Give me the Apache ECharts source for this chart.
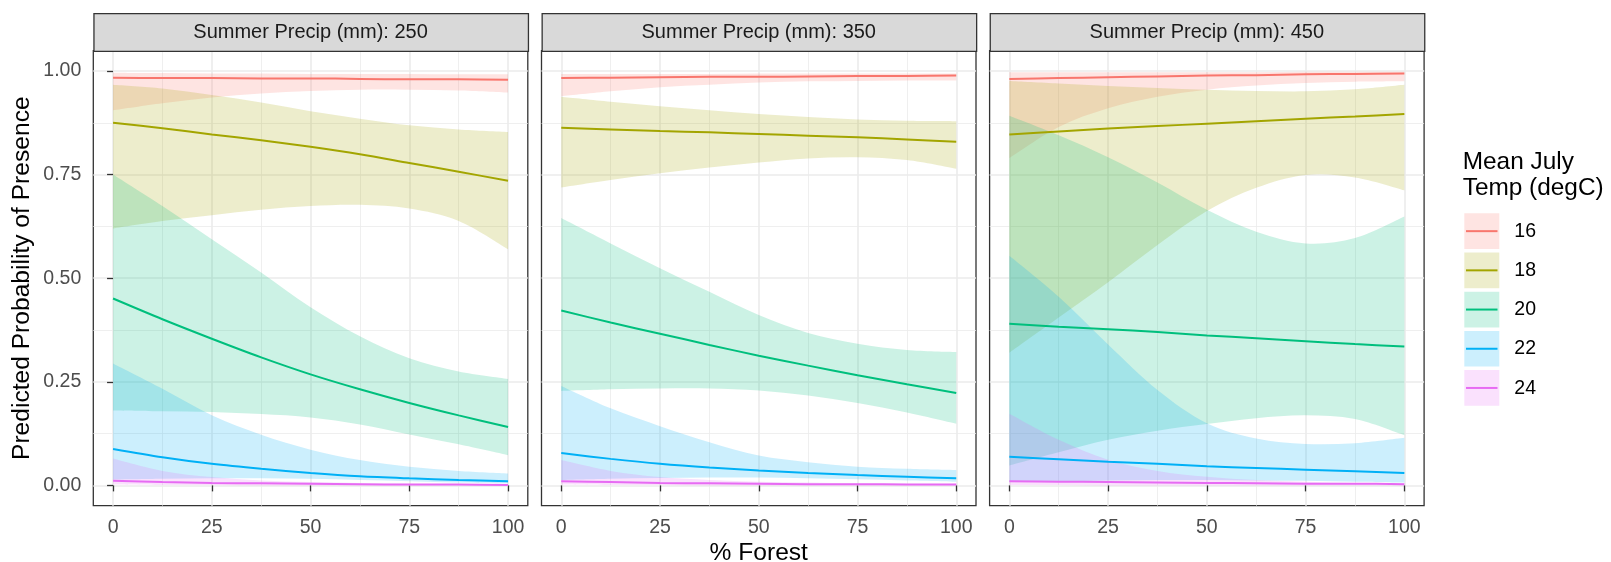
<!DOCTYPE html>
<html>
<head>
<meta charset="utf-8">
<script src="https://cdn.jsdelivr.net/npm/echarts@6/dist/echarts.min.js"></script>
<style>
html,body{margin:0;padding:0;background:#fff;}
#chart{width:1611px;height:562px;}
</style>
</head>
<body>
<div id="chart"></div>
<script>
// ---------- DATA ----------
const xs = [0, 12.5, 25, 37.5, 50, 62.5, 75, 87.5, 100];
const temps = ['16', '18', '20', '22', '24'];
const precips = ['250', '350', '450'];
const xTicks = [0, 25, 50, 75, 100];
const yTicks = [0, 0.25, 0.5, 0.75, 1];
const yTickLabels = ['0.00', '0.25', '0.50', '0.75', '1.00'];

// Summer Precip 250 (rows: 16,18,20,22,24)
const fit250 = [
  [0.984, 0.983, 0.983, 0.982, 0.982, 0.981, 0.980, 0.980, 0.979],
  [0.875, 0.862, 0.847, 0.833, 0.817, 0.799, 0.778, 0.757, 0.735],
  [0.451, 0.401, 0.354, 0.309, 0.268, 0.232, 0.199, 0.169, 0.141],
  [0.088, 0.068, 0.052, 0.040, 0.030, 0.022, 0.017, 0.013, 0.010],
  [0.011, 0.008, 0.006, 0.005, 0.004, 0.003, 0.002, 0.002, 0.001]
];
const lo250 = [
  [0.905, 0.922, 0.936, 0.946, 0.952, 0.955, 0.955, 0.953, 0.948],
  [0.620, 0.638, 0.652, 0.665, 0.674, 0.677, 0.668, 0.638, 0.570],
  [0.181, 0.179, 0.177, 0.172, 0.164, 0.147, 0.123, 0.099, 0.073],
  [0.014, 0.016, 0.017, 0.017, 0.016, 0.013, 0.010, 0.007, 0.005],
  [0.002, 0.001, 0.001, 0.000, 0.000, 0.000, 0.000, 0.000, 0.000]
];
const hi250 = [
  [0.996, 0.995, 0.994, 0.994, 0.993, 0.993, 0.993, 0.992, 0.992],
  [0.967, 0.958, 0.942, 0.924, 0.903, 0.885, 0.869, 0.859, 0.853],
  [0.750, 0.674, 0.594, 0.514, 0.430, 0.360, 0.307, 0.275, 0.257],
  [0.294, 0.233, 0.169, 0.122, 0.086, 0.061, 0.045, 0.035, 0.029],
  [0.065, 0.035, 0.020, 0.012, 0.008, 0.006, 0.004, 0.003, 0.003]
];

// Summer Precip 350
const fit350 = [
  [0.983, 0.984, 0.985, 0.986, 0.986, 0.987, 0.988, 0.988, 0.989],
  [0.863, 0.859, 0.855, 0.852, 0.848, 0.844, 0.840, 0.835, 0.829],
  [0.422, 0.393, 0.366, 0.339, 0.313, 0.289, 0.266, 0.244, 0.223],
  [0.078, 0.064, 0.052, 0.043, 0.036, 0.030, 0.025, 0.021, 0.017],
  [0.010, 0.008, 0.006, 0.005, 0.004, 0.003, 0.003, 0.002, 0.002]
];
const lo350 = [
  [0.939, 0.951, 0.961, 0.967, 0.972, 0.975, 0.976, 0.977, 0.977],
  [0.719, 0.737, 0.753, 0.767, 0.779, 0.789, 0.792, 0.785, 0.764],
  [0.228, 0.232, 0.234, 0.234, 0.229, 0.217, 0.199, 0.176, 0.149],
  [0.013, 0.016, 0.018, 0.019, 0.019, 0.017, 0.015, 0.012, 0.009],
  [0.002, 0.001, 0.001, 0.000, 0.000, 0.000, 0.000, 0.000, 0.000]
];
const hi350 = [
  [0.993, 0.993, 0.993, 0.993, 0.994, 0.994, 0.994, 0.994, 0.994],
  [0.938, 0.926, 0.915, 0.905, 0.896, 0.889, 0.883, 0.880, 0.879],
  [0.645, 0.584, 0.524, 0.467, 0.411, 0.368, 0.342, 0.327, 0.322],
  [0.240, 0.186, 0.143, 0.104, 0.072, 0.056, 0.045, 0.040, 0.037],
  [0.061, 0.035, 0.020, 0.013, 0.009, 0.007, 0.005, 0.004, 0.004]
];

// Summer Precip 450
const fit450 = [
  [0.981, 0.983, 0.985, 0.987, 0.989, 0.990, 0.992, 0.993, 0.994],
  [0.847, 0.854, 0.861, 0.867, 0.873, 0.879, 0.885, 0.890, 0.896],
  [0.390, 0.383, 0.377, 0.370, 0.362, 0.355, 0.348, 0.341, 0.335],
  [0.069, 0.063, 0.057, 0.052, 0.046, 0.042, 0.038, 0.034, 0.030],
  [0.010, 0.009, 0.008, 0.007, 0.006, 0.005, 0.004, 0.004, 0.003]
];
const lo450 = [
  [0.790, 0.865, 0.910, 0.938, 0.955, 0.965, 0.971, 0.974, 0.975],
  [0.320, 0.405, 0.490, 0.580, 0.662, 0.718, 0.749, 0.743, 0.712],
  [0.048, 0.080, 0.110, 0.132, 0.148, 0.162, 0.169, 0.160, 0.121],
  [0.008, 0.010, 0.012, 0.013, 0.013, 0.012, 0.011, 0.009, 0.007],
  [0.001, 0.001, 0.000, 0.000, 0.000, 0.000, 0.000, 0.000, 0.000]
];
const hi450 = [
  [0.997, 0.997, 0.997, 0.997, 0.997, 0.997, 0.998, 0.998, 0.998],
  [0.976, 0.970, 0.964, 0.959, 0.955, 0.952, 0.951, 0.956, 0.967],
  [0.892, 0.845, 0.792, 0.731, 0.665, 0.612, 0.584, 0.597, 0.649],
  [0.554, 0.455, 0.340, 0.230, 0.150, 0.113, 0.100, 0.102, 0.115],
  [0.173, 0.110, 0.062, 0.035, 0.021, 0.013, 0.009, 0.006, 0.005]
];

const fits = [fit250, fit350, fit450];
const los = [lo250, lo350, lo450];
const his = [hi250, hi350, hi450];

// ---------- STYLE / LAYOUT ----------
const colors = ['#F8766D', '#A3A500', '#00BF7D', '#00B0F6', '#E76BF3'];
const FONT = '"Liberation Sans", Arial, Helvetica, sans-serif';
const ribbonAlpha = 0.2;
const panelLefts = [93.3, 541.5, 989.6];
const panelTop = 50.7, panelW = 434.5, panelH = 455;
const stripTop = 13;

function rgba(hex, a) {
  const n = parseInt(hex.slice(1), 16);
  return 'rgba(' + ((n >> 16) & 255) + ',' + ((n >> 8) & 255) + ',' + (n & 255) + ',' + a + ')';
}

// smooth path through screen points (Catmull-Rom -> cubic Bezier)
function curveCmds(pts) {
  let d = '';
  for (let i = 0; i < pts.length - 1; i++) {
    const p0 = pts[Math.max(i - 1, 0)], p1 = pts[i], p2 = pts[i + 1], p3 = pts[Math.min(i + 2, pts.length - 1)];
    const c1x = p1[0] + (p2[0] - p0[0]) / 6, c1y = p1[1] + (p2[1] - p0[1]) / 6;
    const c2x = p2[0] - (p3[0] - p1[0]) / 6, c2y = p2[1] - (p3[1] - p1[1]) / 6;
    d += ' C' + c1x + ',' + c1y + ' ' + c2x + ',' + c2y + ' ' + p2[0] + ',' + p2[1];
  }
  return d;
}

const chart = echarts.init(document.getElementById('chart'), null, {renderer: 'canvas'});

const grids = [], xAxes = [], yAxes = [], series = [], graphics = [];

precips.forEach((p, gi) => {
  grids.push({left: panelLefts[gi], top: panelTop, width: panelW, height: panelH,
    show: true, borderColor: '#333333', borderWidth: 1.3, backgroundColor: '#fff', containLabel: false});
  xAxes.push({
    type: 'value', gridIndex: gi, min: -5, max: 105,
    axisLine: {show: false},
    axisTick: {show: true, length: 6, customValues: xTicks, lineStyle: {color: '#333333', width: 1.3}},
    axisLabel: {show: true, customValues: xTicks, color: '#4D4D4D', fontSize: 19.5, fontFamily: FONT, margin: 12},
    splitLine: {show: true, lineStyle: {color: '#EBEBEB', width: 1.6}}
  });
  yAxes.push({
    type: 'value', gridIndex: gi, min: -0.049, max: 1.049,
    axisLine: {show: false},
    axisTick: {show: gi === 0, length: 6, customValues: yTicks, lineStyle: {color: '#333333', width: 1.3}},
    axisLabel: {show: gi === 0, customValues: yTicks, color: '#4D4D4D', fontSize: 19.5, fontFamily: FONT, margin: 12,
      formatter: v => yTickLabels[yTicks.indexOf(v)] || ''},
    splitLine: {show: true, lineStyle: {color: '#EBEBEB', width: 1.6}}
  });
  xAxes.push({
    type: 'value', gridIndex: gi, min: -5, max: 105,
    axisLine: {show: false}, axisLabel: {show: false},
    axisTick: {show: false, customValues: [12.5, 37.5, 62.5, 87.5]},
    splitLine: {show: true, lineStyle: {color: '#EBEBEB', width: 0.8}}
  });
  yAxes.push({
    type: 'value', gridIndex: gi, min: -0.049, max: 1.049,
    axisLine: {show: false}, axisLabel: {show: false},
    axisTick: {show: false, customValues: [0.125, 0.375, 0.625, 0.875]},
    splitLine: {show: true, lineStyle: {color: '#EBEBEB', width: 0.8}}
  });

  const xi = gi * 2, yi = gi * 2;
  temps.forEach((t, ti) => {
    const lo = los[gi][ti], hi = his[gi][ti];
    series.push({
      type: 'custom', xAxisIndex: xi, yAxisIndex: yi, silent: true, z: 2, clip: true,
      encode: {x: 0, y: [1, 2]},
      data: xs.map((x, i) => [x, lo[i], hi[i]]),
      renderItem: function (params, api) {
        if (params.dataIndex !== 0) return null;
        const top = xs.map((x, i) => api.coord([x, hi[i]]));
        const bot = xs.map((x, i) => api.coord([x, lo[i]])).reverse();
        let d = 'M' + top[0][0] + ',' + top[0][1] + curveCmds(top);
        d += ' L' + bot[0][0] + ',' + bot[0][1] + curveCmds(bot) + ' Z';
        return {type: 'path', shape: {pathData: d}, style: {fill: rgba(colors[ti], ribbonAlpha), stroke: null}};
      }
    });
  });
  temps.forEach((t, ti) => {
    const fit = fits[gi][ti];
    series.push({
      type: 'line', xAxisIndex: xi, yAxisIndex: yi, smooth: 0.3, symbol: 'none', silent: true, z: 3,
      lineStyle: {color: colors[ti], width: 2},
      data: xs.map((x, i) => [x, fit[i]])
    });
  });

  graphics.push({
    type: 'rect', left: panelLefts[gi], top: stripTop, z: 10,
    shape: {width: panelW, height: panelTop - stripTop},
    style: {fill: '#D9D9D9', stroke: '#333333', lineWidth: 1.3}
  });
  graphics.push({
    type: 'text', z: 11,
    x: panelLefts[gi] + panelW / 2, y: (stripTop + panelTop) / 2 + 0.5,
    style: {text: 'Summer Precip (mm): ' + p, fill: '#1A1A1A', font: '20px ' + FONT,
      textAlign: 'center', textVerticalAlign: 'middle'}
  });
});

graphics.push({
  type: 'text', x: 22.5, y: panelTop + panelH / 2, rotation: Math.PI / 2,
  style: {text: 'Predicted Probability of Presence', fill: '#000', font: '24.6px ' + FONT,
    textAlign: 'center', textVerticalAlign: 'middle'}
});
graphics.push({
  type: 'text', x: panelLefts[1] + panelW / 2, y: 553,
  style: {text: '% Forest', fill: '#000', font: '24.6px ' + FONT,
    textAlign: 'center', textVerticalAlign: 'middle'}
});

const legX = 1462.7;
graphics.push({
  type: 'text', x: legX, y: 162,
  style: {text: 'Mean July', fill: '#000', font: '24.4px ' + FONT, textAlign: 'left', textVerticalAlign: 'middle'}
});
graphics.push({
  type: 'text', x: legX, y: 188,
  style: {text: 'Temp (degC)', fill: '#000', font: '24.4px ' + FONT, textAlign: 'left', textVerticalAlign: 'middle'}
});
temps.forEach((t, ti) => {
  const top = 213.3 + ti * 39.2;
  graphics.push({
    type: 'rect', x: 1464.3, y: top, shape: {width: 35, height: 35.7},
    style: {fill: rgba(colors[ti], ribbonAlpha)}
  });
  graphics.push({
    type: 'line', shape: {x1: 1466, y1: top + 17.85, x2: 1497.5, y2: top + 17.85},
    style: {stroke: colors[ti], lineWidth: 2}
  });
  graphics.push({
    type: 'text', x: 1514.3, y: top + 18.2,
    style: {text: t, fill: '#000', font: '19.5px ' + FONT, textAlign: 'left', textVerticalAlign: 'middle'}
  });
});

chart.setOption({
  animation: false,
  backgroundColor: '#fff',
  grid: grids,
  xAxis: xAxes,
  yAxis: yAxes,
  series: series,
  graphic: graphics
});
</script>
</body>
</html>
